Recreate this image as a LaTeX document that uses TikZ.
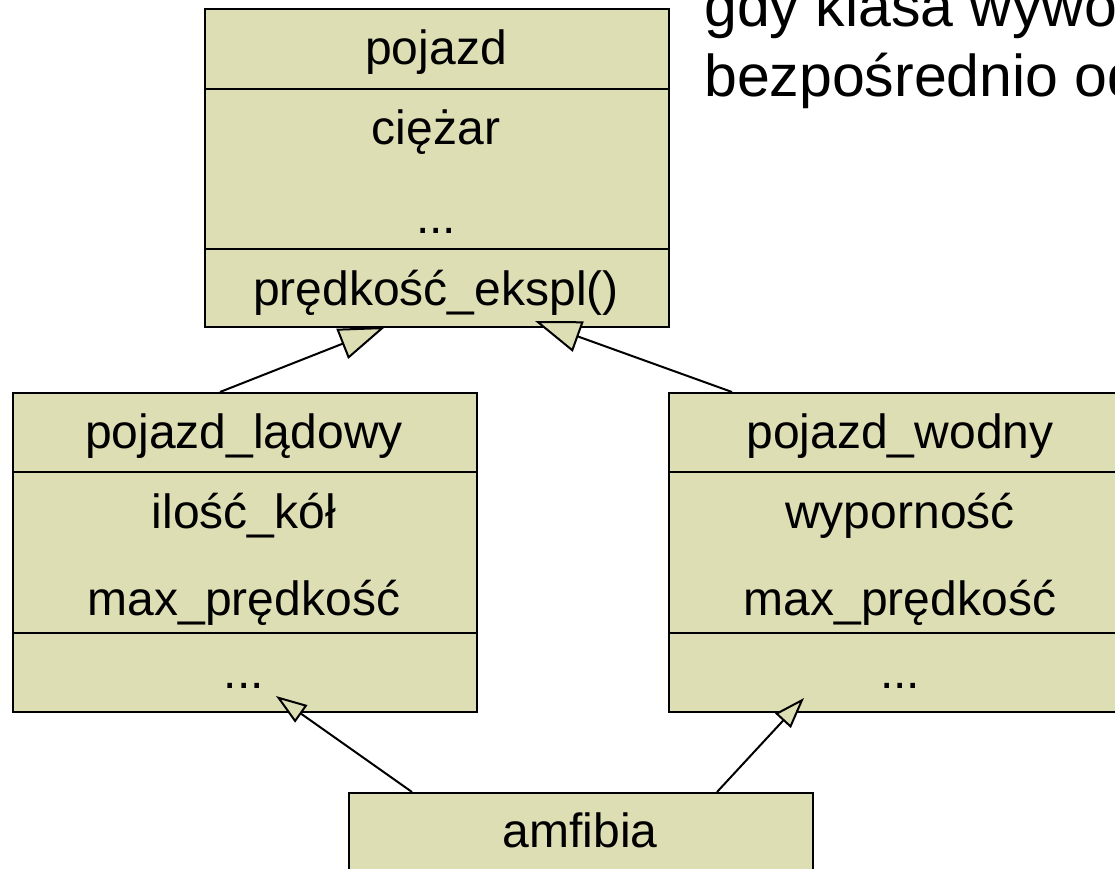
\documentclass[tikz,border=0pt]{standalone}
\usepackage{fontspec}
\setmainfont{Liberation Sans}
\usetikzlibrary{arrows.meta,calc}
\definecolor{classfill}{RGB}{222,222,181}
\begin{document}
\begin{tikzpicture}[x=1pt,y=-1pt,
  compartment/.style={draw=black, line width=2pt, fill=classfill, inner sep=0pt,
    minimum width=464pt, anchor=north west},
  member/.style={anchor=base, inner sep=0pt, font=\fontsize{48}{58}\selectfont},
  note/.style={anchor=base west, inner sep=0pt, font=\fontsize{59}{70}\selectfont},
  bigtip/.style={line width=2pt, -{Triangle[length=46pt, width=32pt, fill=classfill]}},
  smalltip/.style={line width=2pt, -{Triangle[length=31pt, width=21pt, fill=classfill]}}]
\useasboundingbox (0,0) rectangle (1115,869);
\clip (0,0) rectangle (1115,869);
\fill[white] (0,0) rectangle (1115,869);

% note text at the top right
\node[note] (n1) at (704,27) {gdy klasa wywodzi};
\node[note] (n2) at (704,97) {bezpośrednio od};

% class: pojazd
\node[compartment, minimum height=80pt] (pojH) at (204,8) {};
\node[compartment, minimum height=160pt] (pojA) at (204,88) {};
\node[compartment, minimum height=78pt] (pojM) at (204,248) {};
\node[member] (pojT) at (436,65) {pojazd};
\node[member] (pojA1) at (436,145) {ciężar};
\node[member] (pojA2) at (436,233) {...};
\node[member] (pojM1) at (436,305) {prędkość\_ekspl()};

% class: pojazd_lądowy
\node[compartment, minimum height=79pt] (ladH) at (12,392) {};
\node[compartment, minimum height=161pt] (ladA) at (12,471) {};
\node[compartment, minimum height=79pt] (ladM) at (12,632) {};
\node[member] (ladT) at (244,448) {pojazd\_lądowy};
\node[member] (ladA1) at (244,528) {ilość\_kół};
\node[member] (ladA2) at (244,615) {max\_prędkość};
\node[member] (ladM1) at (244,688) {...};

% class: pojazd_wodny
\node[compartment, minimum height=79pt] (wodH) at (668,392) {};
\node[compartment, minimum height=161pt] (wodA) at (668,471) {};
\node[compartment, minimum height=79pt] (wodM) at (668,632) {};
\node[member] (wodT) at (900,448) {pojazd\_wodny};
\node[member] (wodA1) at (900,528) {wyporność};
\node[member] (wodA2) at (900,615) {max\_prędkość};
\node[member] (wodM1) at (900,688) {...};

% class: amfibia
\node[compartment, minimum height=100pt] (amfH) at (348,792) {};
\node[member] (amfT) at (580,847) {amfibia};

% generalisation arrows
\coordinate (g1) at ($(pojM.south west)+(181,-1)$);
\coordinate (g2) at ($(pojM.south west)+(331,-7)$);
\coordinate (g3) at ($(ladM.south west)+(264,-17)$);
\coordinate (g4) at ($(wodM.south west)+(136,-15)$);
\draw[bigtip] ($(ladH.north west)+(208,0)$) -- (g1);
\draw[bigtip] ($(wodH.north west)+(64,0)$) -- (g2);
\draw[smalltip] ($(amfH.north west)+(64,0)$) -- (g3);
\draw[smalltip] ($(amfH.north west)+(369,0)$) -- (g4);
\end{tikzpicture}
\end{document}
